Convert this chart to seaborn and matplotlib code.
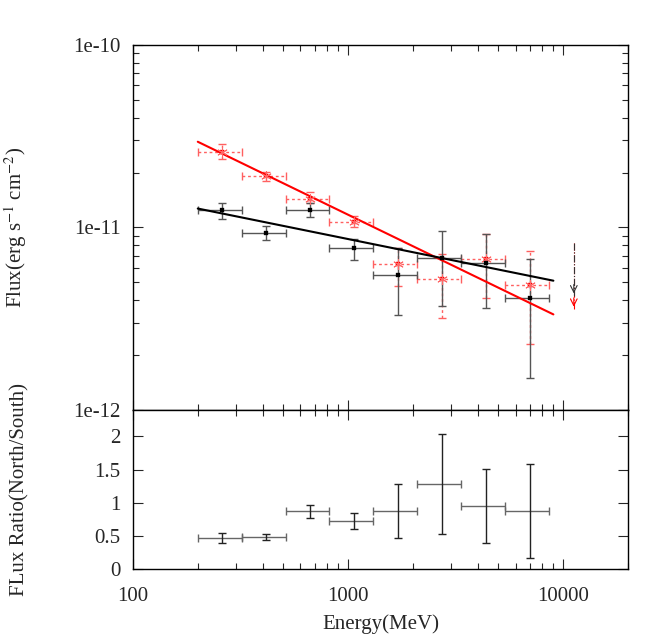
import numpy as np
import pandas as pd
import matplotlib
matplotlib.use('Agg')
import matplotlib.pyplot as plt
import seaborn as sns
from matplotlib.ticker import FixedLocator, FixedFormatter, LogLocator, NullFormatter

# Energy bins (MeV)
e_center = [260, 416, 666, 1063, 1707, 2723, 4355, 6998]
e_lo = [200, 320, 512, 819, 1311, 2097, 3355, 5369]
e_hi = [320, 512, 819, 1311, 2097, 3355, 5369, 8590]

# North (black) fluxes
north_flux = [1.24e-11, 9.3e-12, 1.25e-11, 7.7e-12, 5.5e-12, 6.8e-12, 6.4e-12, 4.1e-12]
north_lo = [1.11e-11, 8.5e-12, 1.14e-11, 6.6e-12, 3.3e-12, 3.7e-12, 3.6e-12, 1.5e-12]
north_hi = [1.37e-11, 1.02e-11, 1.37e-11, 8.6e-12, 7.7e-12, 9.6e-12, 9.2e-12, 6.7e-12]

# South (red) fluxes
south_flux = [2.60e-11, 1.92e-11, 1.44e-11, 1.07e-11, 6.3e-12, 5.2e-12, 6.7e-12, 4.85e-12]
south_lo = [2.37e-11, 1.80e-11, 1.36e-11, 1.00e-11, 4.8e-12, 3.2e-12, 4.1e-12, 2.3e-12]
south_hi = [2.88e-11, 2.02e-11, 1.56e-11, 1.15e-11, 7.75e-12, 7.2e-12, 9.2e-12, 7.4e-12]

# Upper limits in the last bin
ul_energy = 11200
ul_top = 8.2e-12
ul_north = 4.2e-12
ul_south = 3.55e-12

# Power-law fits (end points)
fit_energy = [200, 9000]
fit_north = [1.27e-11, 5.11e-12]
fit_south = [2.95e-11, 3.34e-12]

# Flux ratio North/South
ratio = [0.47, 0.48, 0.88, 0.72, 0.88, 1.28, 0.95, 0.88]
ratio_lo = [0.40, 0.435, 0.77, 0.61, 0.47, 0.53, 0.39, 0.17]
ratio_hi = [0.545, 0.535, 0.97, 0.84, 1.28, 2.04, 1.515, 1.585]

df = pd.DataFrame({'energy': e_center, 'north': north_flux, 'south': south_flux, 'ratio': ratio})
xerr = [np.array(e_center) - np.array(e_lo), np.array(e_hi) - np.array(e_center)]

sns.set_style('ticks')
plt.rcParams['font.family'] = ['Liberation Serif', 'DejaVu Serif']
plt.rcParams['mathtext.fontset'] = 'stix'
plt.rcParams['font.size'] = 15

fig = plt.figure(figsize=(6.54, 6.39), dpi=100)
ax1 = fig.add_axes([0.2034, 0.3584, 0.7568, 0.5712])
ax2 = fig.add_axes([0.2034, 0.1095, 0.7568, 0.2489], sharex=ax1)

# upper panel: error bars
eb = ax1.errorbar(e_center, south_flux, xerr=xerr,
                  yerr=[np.array(south_flux) - np.array(south_lo), np.array(south_hi) - np.array(south_flux)],
                  fmt='none', ecolor='#ff6060', elinewidth=1, capsize=3, capthick=1)
for lc in eb[2]:
    lc.set_linestyle((0, (2, 2)))
ax1.errorbar(e_center, north_flux, xerr=xerr,
             yerr=[np.array(north_flux) - np.array(north_lo), np.array(north_hi) - np.array(north_flux)],
             fmt='none', ecolor='#555555', elinewidth=1, capsize=3, capthick=1)

sns.scatterplot(data=df, x='energy', y='south', ax=ax1, marker='s', s=12, color='red', edgecolor='red', zorder=4)
sns.scatterplot(data=df, x='energy', y='south', ax=ax1, marker=(6, 2, 0), s=50, color='#ff6666', linewidth=0.7, zorder=4)
sns.scatterplot(data=df, x='energy', y='north', ax=ax1, marker='s', s=8, color='black', edgecolor='black', zorder=5)

# fits
sns.lineplot(x=fit_energy, y=fit_south, ax=ax1, color='red', lw=1.5)
sns.lineplot(x=fit_energy, y=fit_north, ax=ax1, color='black', lw=1.5)

# upper limits
ax1.plot([ul_energy, ul_energy], [ul_top, ul_south], color='red', lw=0.8, ls='-.')
ax1.plot([ul_energy, ul_energy], [ul_top, ul_north], color='#333333', lw=0.8, ls='-.')
ax1.annotate('', xy=(ul_energy, ul_north), xytext=(ul_energy, ul_north * 1.2),
             arrowprops=dict(arrowstyle='->', color='#333333', lw=0.8, mutation_scale=12))
ax1.annotate('', xy=(ul_energy, ul_south), xytext=(ul_energy, ul_south * 1.2),
             arrowprops=dict(arrowstyle='->', color='red', lw=0.8, mutation_scale=12))

ax1.set_xscale('log')
ax1.set_yscale('log')
ax1.set_xlim(100, 20000)
ax1.set_ylim(1e-12, 1e-10)
ax1.yaxis.set_major_locator(FixedLocator([1e-12, 1e-11, 1e-10]))
ax1.yaxis.set_major_formatter(FixedFormatter(['1e-12', '1e-11', '1e-10']))
ax1.yaxis.set_minor_locator(LogLocator(base=10, subs=np.arange(2, 10)))
ax1.yaxis.set_minor_formatter(NullFormatter())
ax1.set_xlabel('')
ax1.set_ylabel(r'Flux(erg s$^{-1}$ cm$^{-2}$)')
ax1.yaxis.set_label_coords(-0.21, 0.5)
ax1.tick_params(axis='x', labelbottom=False)

# lower panel: ratio
ax2.errorbar(e_center, ratio, xerr=xerr, fmt='none', ecolor='#666666',
             elinewidth=1, capsize=3, capthick=1)
ax2.errorbar(e_center, ratio,
             yerr=[np.array(ratio) - np.array(ratio_lo), np.array(ratio_hi) - np.array(ratio)],
             fmt='none', ecolor='#222222', elinewidth=1, capsize=3, capthick=1)
ax2.set_ylim(0, 2.4)
ax2.set_yticks([0, 0.5, 1, 1.5, 2])
ax2.set_yticklabels(['0', '0.5', '1', '1.5', '2'])
ax2.xaxis.set_major_locator(FixedLocator([100, 1000, 10000]))
ax2.xaxis.set_major_formatter(FixedFormatter(['100', '1000', '10000']))
ax2.xaxis.set_minor_locator(LogLocator(base=10, subs=np.arange(2, 10)))
ax2.xaxis.set_minor_formatter(NullFormatter())
ax2.set_xlabel('Energy(MeV)', labelpad=6)
ax2.set_ylabel('FLux Ratio(North/South)')
ax2.yaxis.set_label_coords(-0.21, 0.5)

for ax in (ax1, ax2):
    ax.tick_params(which='major', direction='in', length=7, width=0.8, top=True, right=True, labelsize=15)
    ax.tick_params(which='minor', direction='in', length=4, width=0.8, top=True, right=True)
    ax.tick_params(axis='y', pad=9)
    for sp in ax.spines.values():
        sp.set_linewidth(1)
        sp.set_color('black')
ax2.tick_params(axis='x', pad=13)

fig.savefig('out.png', dpi=100)
